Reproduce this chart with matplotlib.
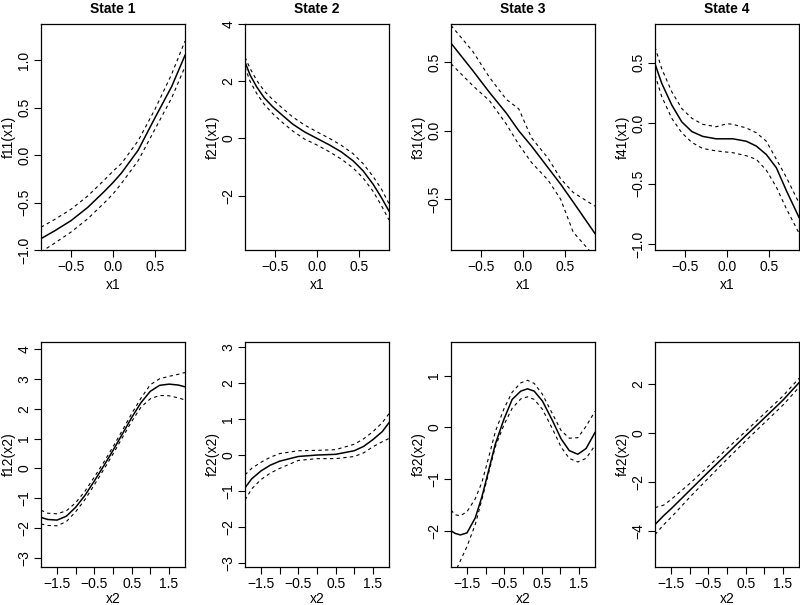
import matplotlib
matplotlib.use("Agg")
import matplotlib.pyplot as plt

plt.rcParams["font.family"] = ["Liberation Sans", "DejaVu Sans"]
plt.rcParams["font.size"] = 10

# ---- State 1..4, covariate x1 (top row) ----
x1_s1 = [-0.86, -0.7, -0.5, -0.3, -0.1, 0.0, 0.1, 0.3, 0.5, 0.7, 0.86]
f11_fit = [-0.88, -0.80, -0.69, -0.55, -0.38, -0.29, -0.19, 0.05, 0.39, 0.72, 1.05]
f11_hi = [-0.76, -0.68, -0.57, -0.43, -0.26, -0.17, -0.09, 0.15, 0.48, 0.85, 1.20]
f11_lo = [-1.02, -0.93, -0.81, -0.67, -0.50, -0.41, -0.30, -0.06, 0.27, 0.60, 0.93]

x1_s2 = [-0.86, -0.8, -0.72, -0.63, -0.53, -0.41, -0.29, -0.15, 0.0, 0.15, 0.29, 0.43, 0.55, 0.67, 0.77, 0.86]
f21_fit = [2.67, 2.22, 1.80, 1.42, 1.11, 0.80, 0.50, 0.23, 0.0, -0.23, -0.47, -0.78, -1.13, -1.60, -2.07, -2.54]
f21_hi = [2.84, 2.45, 2.03, 1.66, 1.36, 1.05, 0.75, 0.47, 0.23, 0.0, -0.24, -0.53, -0.88, -1.33, -1.77, -2.28]
f21_lo = [2.49, 2.0, 1.57, 1.19, 0.87, 0.55, 0.26, -0.02, -0.23, -0.47, -0.72, -1.03, -1.38, -1.85, -2.35, -2.85]

x1_s3 = [-0.86, -0.6, -0.4, -0.2, -0.05, 0.1, 0.3, 0.45, 0.6, 0.86]
f31_fit = [0.64, 0.44, 0.28, 0.13, 0.0, -0.11, -0.27, -0.39, -0.52, -0.75]
f31_hi = [0.77, 0.58, 0.39, 0.23, 0.16, -0.05, -0.20, -0.35, -0.45, -0.55]
f31_lo = [0.49, 0.33, 0.22, 0.05, -0.10, -0.23, -0.36, -0.50, -0.74, -0.92]

x1_s4 = [-0.86, -0.78, -0.66, -0.54, -0.42, -0.29, -0.13, 0.0, 0.07, 0.23, 0.35, 0.47, 0.59, 0.71, 0.86]
f41_fit = [0.49, 0.33, 0.15, 0.01, -0.07, -0.11, -0.13, -0.13, -0.13, -0.15, -0.19, -0.26, -0.37, -0.56, -0.78]
f41_hi = [0.63, 0.45, 0.26, 0.12, 0.04, -0.01, -0.03, -0.005, -0.01, -0.04, -0.08, -0.15, -0.30, -0.45, -0.66]
f41_lo = [0.40, 0.22, 0.04, -0.08, -0.16, -0.21, -0.23, -0.24, -0.245, -0.27, -0.30, -0.39, -0.53, -0.71, -0.91]

# ---- State 1..4, covariate x2 (bottom row) ----
x2_s1 = [-1.93, -1.75, -1.5, -1.25, -1.0, -0.75, -0.5, -0.25, 0.0, 0.25, 0.5, 0.75, 1.0, 1.25, 1.5, 1.75, 1.93]
f12_fit = [-1.64, -1.71, -1.73, -1.6, -1.3, -0.9, -0.42, 0.08, 0.6, 1.15, 1.7, 2.2, 2.58, 2.78, 2.82, 2.79, 2.73]
f12_hi = [-1.4, -1.5, -1.52, -1.42, -1.15, -0.76, -0.29, 0.2, 0.72, 1.27, 1.83, 2.35, 2.8, 3.0, 3.08, 3.15, 3.21]
f12_lo = [-1.86, -1.91, -1.92, -1.78, -1.45, -1.04, -0.55, -0.04, 0.48, 1.03, 1.57, 2.05, 2.33, 2.44, 2.43, 2.36, 2.29]

x2_s2 = [-1.93, -1.75, -1.5, -1.25, -1.0, -0.5, 0.0, 0.5, 1.0, 1.25, 1.5, 1.75, 1.93]
f22_fit = [-0.91, -0.66, -0.44, -0.28, -0.17, -0.04, 0.0, 0.02, 0.12, 0.24, 0.43, 0.65, 0.9]
f22_hi = [-0.55, -0.37, -0.2, -0.06, 0.04, 0.12, 0.13, 0.15, 0.3, 0.45, 0.65, 0.9, 1.15]
f22_lo = [-1.25, -0.94, -0.68, -0.5, -0.37, -0.15, -0.1, -0.1, -0.04, 0.06, 0.23, 0.37, 0.46]

x2_s3 = [-1.93, -1.82, -1.68, -1.5, -1.28, -1.1, -0.92, -0.74, -0.51, -0.29, -0.06, 0.12, 0.30,
         0.52, 0.79, 1.02, 1.24, 1.47, 1.69, 1.93]
f32_fit = [-2.0, -2.05, -2.08, -2.04, -1.75, -1.34, -0.83, -0.32, 0.16, 0.54, 0.70, 0.745, 0.70,
           0.51, 0.13, -0.22, -0.45, -0.52, -0.41, -0.1]
f32_hi = [-1.6, -1.69, -1.71, -1.63, -1.38, -1.06, -0.58, -0.08, 0.36, 0.68, 0.86, 0.91, 0.85,
          0.64, 0.26, -0.06, -0.21, -0.2, 0.02, 0.31]
f32_lo = [-2.95, -2.8, -2.58, -2.3, -1.88, -1.39, -0.88, -0.37, 0.05, 0.37, 0.55, 0.59, 0.54,
          0.35, -0.03, -0.38, -0.6, -0.67, -0.6, -0.35]

x2_s4 = [-1.93, -1.7, -1.5, -1.0, -0.5, 0.0, 0.5, 1.0, 1.5, 1.93]
f42_fit = [-3.74, -3.38, -3.1, -2.35, -1.6, -0.86, -0.12, 0.6, 1.33, 2.04]
f42_hi = [-3.05, -2.95, -2.72, -2.07, -1.37, -0.65, 0.06, 0.78, 1.5, 2.22]
f42_lo = [-4.15, -3.75, -3.45, -2.63, -1.85, -1.08, -0.33, 0.4, 1.13, 1.85]

titles = ["State 1", "State 2", "State 3", "State 4"]

top_panels = [
    (x1_s1, f11_fit, f11_hi, f11_lo, "f11(x1)", (-1.0, 1.38), [-1.0, -0.5, 0.0, 0.5, 1.0], "{:.1f}"),
    (x1_s2, f21_fit, f21_hi, f21_lo, "f21(x1)", (-3.9, 4.0), [-2, 0, 2, 4], "{:d}"),
    (x1_s3, f31_fit, f31_hi, f31_lo, "f31(x1)", (-0.87, 0.78), [-0.5, 0.0, 0.5], "{:.1f}"),
    (x1_s4, f41_fit, f41_hi, f41_lo, "f41(x1)", (-1.05, 0.82), [-1.0, -0.5, 0.0, 0.5], "{:.1f}"),
]
bottom_panels = [
    (x2_s1, f12_fit, f12_hi, f12_lo, "f12(x2)", (-3.3, 4.23), [-3, -2, -1, 0, 1, 2, 3, 4], "{:d}"),
    (x2_s2, f22_fit, f22_hi, f22_lo, "f22(x2)", (-3.11, 3.14), [-3, -2, -1, 0, 1, 2, 3], "{:d}"),
    (x2_s3, f32_fit, f32_hi, f32_lo, "f32(x2)", (-2.7, 1.65), [-2, -1, 0, 1], "{:d}"),
    (x2_s4, f42_fit, f42_hi, f42_lo, "f42(x2)", (-5.47, 3.7), [-4, -2, 0, 2], "{:d}"),
]

col_left = [41, 245, 451, 655]
col_width = 144
W, H = 800, 605


def tick_text(v, fmt):
    s = fmt.format(v) if fmt == "{:.1f}" else fmt.format(int(v))
    return s.replace("-", "\u2212")


def draw(ax, xs, fit, hi, lo, ylabel, ylim, yticks, fmt, xlabel, xlim, xticks, xlabels, xpad):
    ax.plot(xs, fit, color="black", lw=1.1)
    ax.plot(xs, hi, color="black", lw=0.8, ls=(0, (3, 3)))
    ax.plot(xs, lo, color="black", lw=0.8, ls=(0, (3, 3)))
    ax.set_xlim(*xlim)
    ax.set_ylim(*ylim)
    ax.set_xticks(xticks)
    ax.set_xticklabels(xlabels)
    ax.set_yticks(yticks)
    ax.set_yticklabels([tick_text(v, fmt) for v in yticks])
    ax.set_xlabel(xlabel, labelpad=xpad)
    ax.set_ylabel(ylabel, labelpad=1)
    for side in ax.spines.values():
        side.set_linewidth(0.9)
    ax.tick_params(direction="out", length=5, width=0.8, labelsize=10)
    ax.tick_params(axis="x", pad=2)
    ax.tick_params(axis="y", pad=2, labelrotation=90)
    for lab in ax.get_yticklabels():
        lab.set_verticalalignment("center")


fig = plt.figure(figsize=(8, 6.05), dpi=100)

for i, p in enumerate(top_panels):
    ax = fig.add_axes([col_left[i] / W, 1 - 250 / H, col_width / W, 226 / H])
    draw(ax, *p, "x1", (-0.86, 0.86), [-0.5, 0.0, 0.5], ["\u22120.5", "0.0", "0.5"], 3)
    ax.set_title(titles[i], fontweight="bold", fontsize=10, pad=8)

for i, p in enumerate(bottom_panels):
    ax = fig.add_axes([col_left[i] / W, 1 - 567 / H, col_width / W, 225 / H])
    draw(ax, *p, "x2", (-1.93, 1.93), [-1.5, -1.0, -0.5, 0.0, 0.5, 1.0, 1.5],
         ["\u22121.5", "", "\u22120.5", "", "0.5", "", "1.5"], 1)

fig.savefig("out.png", dpi=100)
